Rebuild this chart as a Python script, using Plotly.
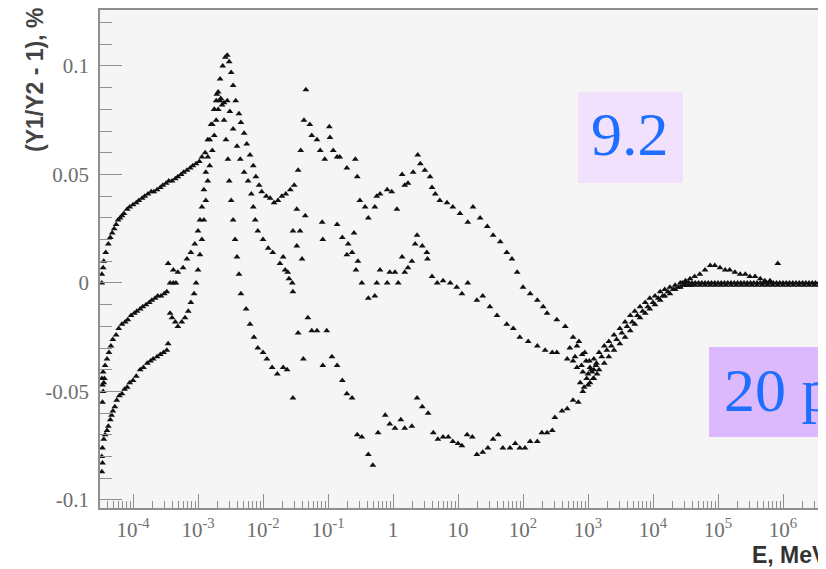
import numpy as np
import plotly.graph_objects as go

# ---- data: (log10(E / MeV), (Y1/Y2 - 1) in %) ----
series_a = [
    (-4.48, 0.004), (-4.46, 0.007), (-4.45, 0.010), (-4.42, 0.014), (-4.38, 0.018),
    (-4.35, 0.021), (-4.32, 0.023), (-4.29, 0.025), (-4.26, 0.027), (-4.23, 0.029),
    (-4.20, 0.030), (-4.17, 0.031), (-4.14, 0.032), (-4.09, 0.034), (-4.05, 0.035),
    (-4.00, 0.036), (-3.95, 0.037), (-3.91, 0.038), (-3.86, 0.039), (-3.82, 0.040),
    (-3.77, 0.041), (-3.72, 0.042), (-3.68, 0.042), (-3.63, 0.043), (-3.58, 0.044),
    (-3.54, 0.045), (-3.49, 0.046), (-3.45, 0.047), (-3.40, 0.047), (-3.35, 0.048),
    (-3.31, 0.049), (-3.26, 0.050), (-3.22, 0.051), (-3.17, 0.052), (-3.12, 0.053),
    (-3.08, 0.054), (-3.03, 0.055), (-2.98, 0.056), (-2.94, 0.058), (-2.89, 0.060),
    (-2.85, 0.066), (-2.80, 0.073), (-2.75, 0.080), (-2.71, 0.087), (-2.66, 0.094),
    (-2.62, 0.100), (-2.58, 0.104), (-2.55, 0.105), (-2.52, 0.102), (-2.49, 0.097),
    (-2.46, 0.091), (-2.42, 0.084), (-2.37, 0.078), (-2.34, 0.074), (-2.29, 0.069),
    (-2.25, 0.064), (-2.20, 0.059), (-2.15, 0.054), (-2.11, 0.049), (-2.06, 0.045),
    (-2.02, 0.042), (-1.95, 0.040), (-1.89, 0.039), (-1.83, 0.037), (-1.77, 0.038),
    (-1.71, 0.040), (-1.65, 0.041), (-1.58, 0.043), (-1.52, 0.045), (-1.46, 0.052),
    (-1.42, 0.061), (-1.37, 0.075), (-1.34, 0.089), (-1.28, 0.073), (-1.25, 0.068),
    (-1.17, 0.066), (-1.12, 0.061), (-1.05, 0.057), (-0.98, 0.072), (-0.97, 0.067),
    (-0.92, 0.061), (-0.86, 0.058), (-0.82, 0.058), (-0.71, 0.053), (-0.58, 0.057),
    (-0.55, 0.049), (-0.51, 0.038), (-0.43, 0.035), (-0.38, 0.030), (-0.28, 0.035),
    (-0.25, 0.040), (-0.20, 0.041), (-0.09, 0.043), (-0.02, 0.042), (0.06, 0.034),
    (0.14, 0.050), (0.18, 0.045), (0.23, 0.046), (0.31, 0.051), (0.38, 0.059),
    (0.42, 0.055), (0.49, 0.052), (0.57, 0.049), (0.60, 0.044), (0.65, 0.041),
    (0.72, 0.038), (0.83, 0.037), (0.92, 0.035), (1.03, 0.032), (1.15, 0.028),
    (1.23, 0.035), (1.34, 0.030), (1.45, 0.026), (1.54, 0.022), (1.65, 0.019),
    (1.75, 0.014), (1.83, 0.011), (1.91, 0.005), (2.00, -0.002), (2.11, -0.005),
    (2.22, -0.008), (2.31, -0.011), (2.37, -0.014), (2.52, -0.017), (2.65, -0.020),
    (2.77, -0.025), (2.83, -0.029), (2.91, -0.033), (2.97, -0.036), (3.03, -0.039),
    (3.09, -0.040),
]

series_b = [
    (-4.46, -0.041), (-4.43, -0.038), (-4.40, -0.035), (-4.37, -0.032), (-4.34, -0.029),
    (-4.31, -0.026), (-4.26, -0.024), (-4.22, -0.021), (-4.17, -0.019), (-4.12, -0.018),
    (-4.08, -0.017), (-4.03, -0.015), (-3.98, -0.014), (-3.94, -0.013), (-3.89, -0.012),
    (-3.85, -0.011), (-3.80, -0.010), (-3.75, -0.009), (-3.71, -0.008), (-3.66, -0.007),
    (-3.62, -0.006), (-3.57, -0.006), (-3.52, -0.005), (-3.48, -0.004), (-3.43, 0.000),
    (-3.38, 0.000), (-3.34, 0.000), (-3.46, 0.009), (-3.38, 0.006), (-3.31, 0.005),
    (-3.23, 0.007), (-3.17, 0.011), (-3.11, 0.014), (-3.05, 0.018), (-3.00, 0.024),
    (-2.97, 0.029), (-2.94, 0.035), (-2.91, 0.043), (-2.88, 0.051), (-2.85, 0.058),
    (-2.82, 0.066), (-2.78, 0.073), (-2.75, 0.080), (-2.72, 0.084), (-2.69, 0.088),
    (-2.65, 0.085), (-2.60, 0.083), (-2.55, 0.084), (-2.51, 0.079), (-2.46, 0.071),
    (-2.40, 0.063), (-2.35, 0.057), (-2.29, 0.051), (-2.23, 0.047), (-2.18, 0.041),
    (-2.15, 0.035), (-2.12, 0.029), (-2.08, 0.024), (-2.00, 0.020), (-1.92, 0.016),
    (-1.85, 0.014), (-1.74, 0.009), (-1.66, 0.006), (-1.60, 0.002), (-1.55, 0.000),
    (-1.54, -0.004), (-1.69, 0.012), (-1.62, 0.005), (-1.48, 0.017), (-1.40, 0.011),
    (-1.48, 0.034), (-1.35, 0.031), (-1.54, 0.024), (-1.43, 0.024), (-1.09, 0.028),
    (-1.08, 0.020), (-0.86, 0.027), (-0.78, 0.021), (-0.69, 0.018), (-0.63, 0.014),
    (-0.71, 0.013), (-0.60, 0.023), (-0.54, 0.010), (-0.57, 0.006), (-0.48, 0.000),
    (-0.38, -0.007), (-0.28, -0.006), (-0.25, 0.000), (-0.09, 0.000), (0.08, 0.000),
    (-0.20, 0.006), (-0.05, 0.005), (0.03, 0.005), (0.14, 0.012), (0.18, 0.005),
    (0.23, 0.007), (0.29, 0.010), (0.37, 0.022), (0.34, 0.018), (0.45, 0.017),
    (0.52, 0.014), (0.53, 0.011), (0.60, 0.003), (0.68, 0.000), (0.77, 0.001),
    (0.88, 0.000), (0.98, -0.002), (1.06, -0.005), (1.15, 0.000), (1.29, -0.008),
    (1.38, -0.006), (1.49, -0.011), (1.60, -0.015), (1.75, -0.019), (1.85, -0.021),
    (1.95, -0.025), (2.08, -0.027), (2.22, -0.029), (2.34, -0.031), (2.45, -0.032),
    (2.52, -0.032), (2.68, -0.035), (2.77, -0.036), (2.83, -0.039), (2.92, -0.041),
    (3.00, -0.042),
]

series_c = [
    (-4.47, -0.076), (-4.45, -0.072), (-4.43, -0.070), (-4.40, -0.068), (-4.38, -0.066),
    (-4.35, -0.063), (-4.33, -0.061), (-4.31, -0.059), (-4.28, -0.057), (-4.25, -0.054),
    (-4.21, -0.052), (-4.17, -0.051), (-4.13, -0.049), (-4.09, -0.048), (-4.05, -0.046),
    (-4.00, -0.045), (-3.95, -0.043), (-3.89, -0.040), (-3.84, -0.039), (-3.78, -0.037),
    (-3.73, -0.036), (-3.69, -0.035), (-3.63, -0.034), (-3.58, -0.033), (-3.53, -0.032),
    (-3.48, -0.031), (-3.46, -0.028), (-3.43, -0.014), (-3.40, -0.016), (-3.35, -0.018),
    (-3.31, -0.020), (-3.25, -0.018), (-3.20, -0.016), (-3.15, -0.013), (-3.11, -0.009),
    (-3.06, -0.005), (-3.03, 0.000), (-3.00, 0.006), (-2.97, 0.013), (-2.94, 0.020),
    (-2.91, 0.029), (-2.88, 0.038), (-2.85, 0.047), (-2.82, 0.054), (-2.78, 0.061),
    (-2.75, 0.068), (-2.72, 0.075), (-2.69, 0.080), (-2.66, 0.084), (-2.63, 0.082),
    (-2.60, 0.075), (-2.57, 0.066), (-2.54, 0.057), (-2.52, 0.047), (-2.49, 0.038),
    (-2.46, 0.029), (-2.43, 0.020), (-2.40, 0.012), (-2.37, 0.004), (-2.34, -0.005),
    (-2.26, -0.012), (-2.20, -0.019), (-2.14, -0.025), (-2.08, -0.030), (-2.00, -0.032),
    (-1.94, -0.035), (-1.86, -0.039), (-1.78, -0.042), (-1.69, -0.039), (-1.63, -0.040),
    (-1.54, -0.053), (-1.46, -0.023), (-1.38, -0.035), (-1.31, -0.016), (-1.25, -0.022),
    (-1.17, -0.022), (-1.08, -0.038), (-1.02, -0.022), (-0.94, -0.034), (-0.86, -0.038),
    (-0.78, -0.045), (-0.71, -0.051), (-0.63, -0.053), (-0.55, -0.070), (-0.48, -0.071),
    (-0.38, -0.079), (-0.31, -0.084), (-0.23, -0.069), (-0.12, -0.061), (-0.05, -0.065),
    (0.03, -0.067), (0.12, -0.063), (0.18, -0.067), (0.29, -0.066), (0.37, -0.053),
    (0.45, -0.057), (0.54, -0.060), (0.62, -0.069), (0.69, -0.072), (0.77, -0.071),
    (0.85, -0.071), (0.92, -0.073), (1.00, -0.074), (1.06, -0.075), (1.14, -0.070),
    (1.22, -0.071), (1.29, -0.079), (1.38, -0.078), (1.46, -0.076), (1.54, -0.072),
    (1.62, -0.070), (1.69, -0.076), (1.80, -0.076), (1.88, -0.074), (1.95, -0.076),
    (2.03, -0.076), (2.11, -0.073), (2.22, -0.073), (2.29, -0.069), (2.37, -0.069),
    (2.45, -0.068), (2.49, -0.062), (2.60, -0.059), (2.68, -0.058), (2.77, -0.054),
    (2.85, -0.055), (2.92, -0.050), (3.00, -0.047), (3.08, -0.044),
]

series_edge = [
    (-4.48, 0.000), (-4.48, -0.044), (-4.47, -0.047), (-4.46, -0.050), (-4.45, -0.046),
    (-4.48, -0.080), (-4.47, -0.083), (-4.48, -0.087), (-4.44, -0.044), (-4.47, -0.055),
]

series_min = [
    (2.72, -0.030), (2.80, -0.034), (2.86, -0.027), (2.90, -0.038), (2.95, -0.032),
    (2.98, -0.044), (3.02, -0.036), (3.06, -0.041), (2.88, -0.046), (2.94, -0.048),
    (3.12, -0.038), (3.14, -0.042),
]

series_hi1 = [
    (3.09, -0.035), (3.17, -0.032), (3.25, -0.029), (3.32, -0.027), (3.40, -0.024),
    (3.49, -0.021), (3.57, -0.018), (3.65, -0.015), (3.72, -0.013), (3.80, -0.011),
    (3.88, -0.009), (3.95, -0.007), (4.03, -0.006), (4.11, -0.004), (4.18, -0.003),
    (4.26, -0.002), (4.34, -0.001), (4.42, 0.000), (4.50, 0.001), (4.57, 0.002),
    (4.64, 0.003),
]

series_hi2 = [
    (3.05, -0.040), (3.13, -0.037), (3.21, -0.034), (3.29, -0.031), (3.36, -0.029),
    (3.44, -0.026), (3.52, -0.023), (3.60, -0.020), (3.68, -0.018), (3.76, -0.015),
    (3.84, -0.013), (3.92, -0.011), (4.00, -0.009), (4.08, -0.007), (4.15, -0.006),
    (4.23, -0.004), (4.31, -0.003), (4.39, -0.002), (4.47, -0.001), (4.55, 0.000),
]

series_hi3 = [
    (3.03, -0.046), (3.09, -0.044), (3.17, -0.040), (3.25, -0.037), (3.32, -0.034),
    (3.40, -0.031), (3.49, -0.028), (3.57, -0.025), (3.65, -0.022), (3.72, -0.019),
    (3.80, -0.016), (3.88, -0.014), (3.95, -0.012), (4.03, -0.010), (4.11, -0.008),
    (4.18, -0.006), (4.26, -0.005), (4.34, -0.003), (4.42, -0.002), (4.50, -0.001),
    (4.58, -0.001),
]

series_flat1 = [
    (4.45, 0.000), (4.50, 0.000), (4.55, 0.000), (4.60, 0.000), (4.65, 0.000),
    (4.70, 0.000), (4.75, 0.000), (4.80, 0.000), (4.85, 0.000), (4.90, 0.000),
    (4.95, 0.000), (5.00, 0.000), (5.05, 0.000), (5.10, 0.000), (5.15, 0.000),
    (5.20, 0.000), (5.25, 0.000), (5.30, 0.000), (5.35, 0.000), (5.40, 0.000),
    (5.45, 0.000), (5.50, 0.000), (5.55, 0.000), (5.60, 0.000), (5.65, 0.000),
    (5.70, 0.000), (5.75, 0.000), (5.80, 0.000), (5.85, 0.000), (5.90, 0.000),
    (5.95, 0.000), (6.00, 0.000), (6.05, 0.000), (6.10, 0.000), (6.15, 0.000),
    (6.20, 0.000), (6.25, 0.000), (6.30, 0.000), (6.35, 0.000), (6.40, 0.000),
    (6.45, 0.000), (6.50, 0.000), (6.55, 0.000), (6.60, 0.000), (6.65, 0.000),
    (6.70, 0.000),
]

series_flat2 = [
    (4.48, -0.001), (4.56, -0.001), (4.64, -0.001), (4.72, -0.001), (4.80, -0.001),
    (4.88, -0.001), (4.96, -0.001), (5.04, -0.001), (5.12, -0.001), (5.20, -0.001),
    (5.28, -0.001), (5.36, -0.001), (5.44, -0.001), (5.52, -0.001), (5.60, -0.001),
    (5.68, -0.001), (5.76, -0.001), (5.84, -0.001), (5.92, -0.001), (6.00, -0.001),
    (6.08, -0.001), (6.16, -0.001), (6.24, -0.001), (6.32, -0.001), (6.40, -0.001),
    (6.48, -0.001), (6.56, -0.001), (6.64, -0.001),
]

series_arc = [
    (4.72, 0.004), (4.80, 0.006), (4.88, 0.008), (4.95, 0.008), (5.03, 0.007),
    (5.11, 0.006), (5.18, 0.006), (5.26, 0.005), (5.34, 0.004), (5.42, 0.004),
    (5.49, 0.003), (5.57, 0.003), (5.65, 0.002), (5.72, 0.001), (5.80, 0.001),
    (5.92, 0.009),
]

all_series = [series_a, series_b, series_c, series_edge, series_min,
              series_hi1, series_hi2, series_hi3, series_flat1, series_flat2, series_arc]

x_tick_vals = [1e-4, 1e-3, 1e-2, 1e-1, 1, 10, 1e2, 1e3, 1e4, 1e5, 1e6]
x_tick_text = ["10<sup>-4</sup>", "10<sup>-3</sup>", "10<sup>-2</sup>", "10<sup>-1</sup>", "1", "10",
               "10<sup>2</sup>", "10<sup>3</sup>", "10<sup>4</sup>", "10<sup>5</sup>", "10<sup>6</sup>"]
y_tick_vals = [-0.1, -0.05, 0, 0.05, 0.1]
y_tick_text = ["-0.1", "-0.05", "0", "0.05", "0.1"]

# ---- geometry: the page body adds an 8 px offset, so work in window pixels ----
OFF = 8
W, H = 826 - OFF, 569 - OFF
PLOT_LEFT, PLOT_TOP, PLOT_BOTTOM, PLOT_RIGHT = 100, 10, 508, 826
L, T = PLOT_LEFT - OFF, PLOT_TOP - OFF
B = H - (PLOT_BOTTOM - OFF)
R = W - (PLOT_RIGHT - OFF)
PW, PH = PLOT_RIGHT - PLOT_LEFT, PLOT_BOTTOM - PLOT_TOP


def px(x):
    return (x - PLOT_LEFT) / PW


def py(y):
    return (PLOT_BOTTOM - y) / PH


fig = go.Figure()
for pts in all_series:
    lg, vals = zip(*pts)
    fig.add_trace(go.Scatter(
        x=np.power(10.0, np.array(lg)), y=list(vals), mode="markers",
        marker=dict(symbol="triangle-up", size=6, color="#111111", line=dict(width=0)),
        showlegend=False, hoverinfo="skip",
    ))

axis_grey = "#8f8f8f"
tick_font = dict(family="Liberation Serif", size=21, color="#6e6e6e")
minor_x = [m * 10.0 ** k for k in range(-5, 7) for m in range(2, 10)]

fig.update_layout(
    width=W, height=H,
    margin=dict(l=L, r=R, t=T, b=B),
    paper_bgcolor="white",
    plot_bgcolor="#f5f5f5",
    xaxis=dict(
        type="log", range=[-4.508, -4.508 + PW / 65.0],
        showline=True, linecolor=axis_grey, linewidth=1.5, mirror=True,
        showgrid=False, zeroline=False,
        ticks="inside", ticklen=14, tickwidth=1.2, tickcolor=axis_grey,
        tickmode="array", tickvals=x_tick_vals, ticktext=x_tick_text,
        tickfont=tick_font, ticklabelstandoff=2,
        minor=dict(tickmode="array", tickvals=minor_x, ticks="inside",
                   ticklen=7, tickwidth=1, tickcolor=axis_grey, showgrid=False),
    ),
    yaxis=dict(
        range=[-0.1037, 0.1258],
        showline=True, linecolor=axis_grey, linewidth=1.5, mirror=False,
        showgrid=False, zeroline=False,
        ticks="inside", ticklen=22, tickwidth=1.2, tickcolor=axis_grey,
        tickmode="array", tickvals=y_tick_vals, ticktext=y_tick_text,
        tickfont=tick_font, ticklabelstandoff=5,
        minor=dict(tick0=0, dtick=0.01, ticks="inside", ticklen=12,
                   tickwidth=1, tickcolor=axis_grey, showgrid=False),
    ),
    shapes=[
        dict(type="rect", xref="paper", yref="paper",
             x0=px(578), x1=px(683), y0=py(183), y1=py(92),
             fillcolor="#f1e1fd", line=dict(width=0), layer="above"),
        dict(type="rect", xref="paper", yref="paper",
             x0=px(709), x1=px(860), y0=py(437), y1=py(347),
             fillcolor="#dcb9fc", line=dict(width=0), layer="above"),
    ],
    annotations=[
        dict(text="9.2", xref="paper", yref="paper", x=px(630), y=py(134),
             xanchor="center", yanchor="middle", showarrow=False,
             font=dict(family="Liberation Serif", size=62, color="#1f6eff")),
        dict(text="20 p", xref="paper", yref="paper", x=px(722), y=py(390),
             xanchor="left", yanchor="middle", showarrow=False,
             font=dict(family="Liberation Serif", size=62, color="#1f6eff")),
        dict(text="<b>(Y1/Y2 - 1), %</b>", xref="paper", yref="paper",
             x=px(35), y=py(80), xanchor="center", yanchor="middle",
             textangle=-90, showarrow=False,
             font=dict(family="Liberation Sans", size=23, color="#444444")),
        dict(text="<b>E, MeV</b>", xref="paper", yref="paper",
             x=px(750), y=py(555), xanchor="left", yanchor="middle",
             showarrow=False,
             font=dict(family="Liberation Sans", size=23, color="#333333")),
    ],
)

fig.write_html("out.html")
